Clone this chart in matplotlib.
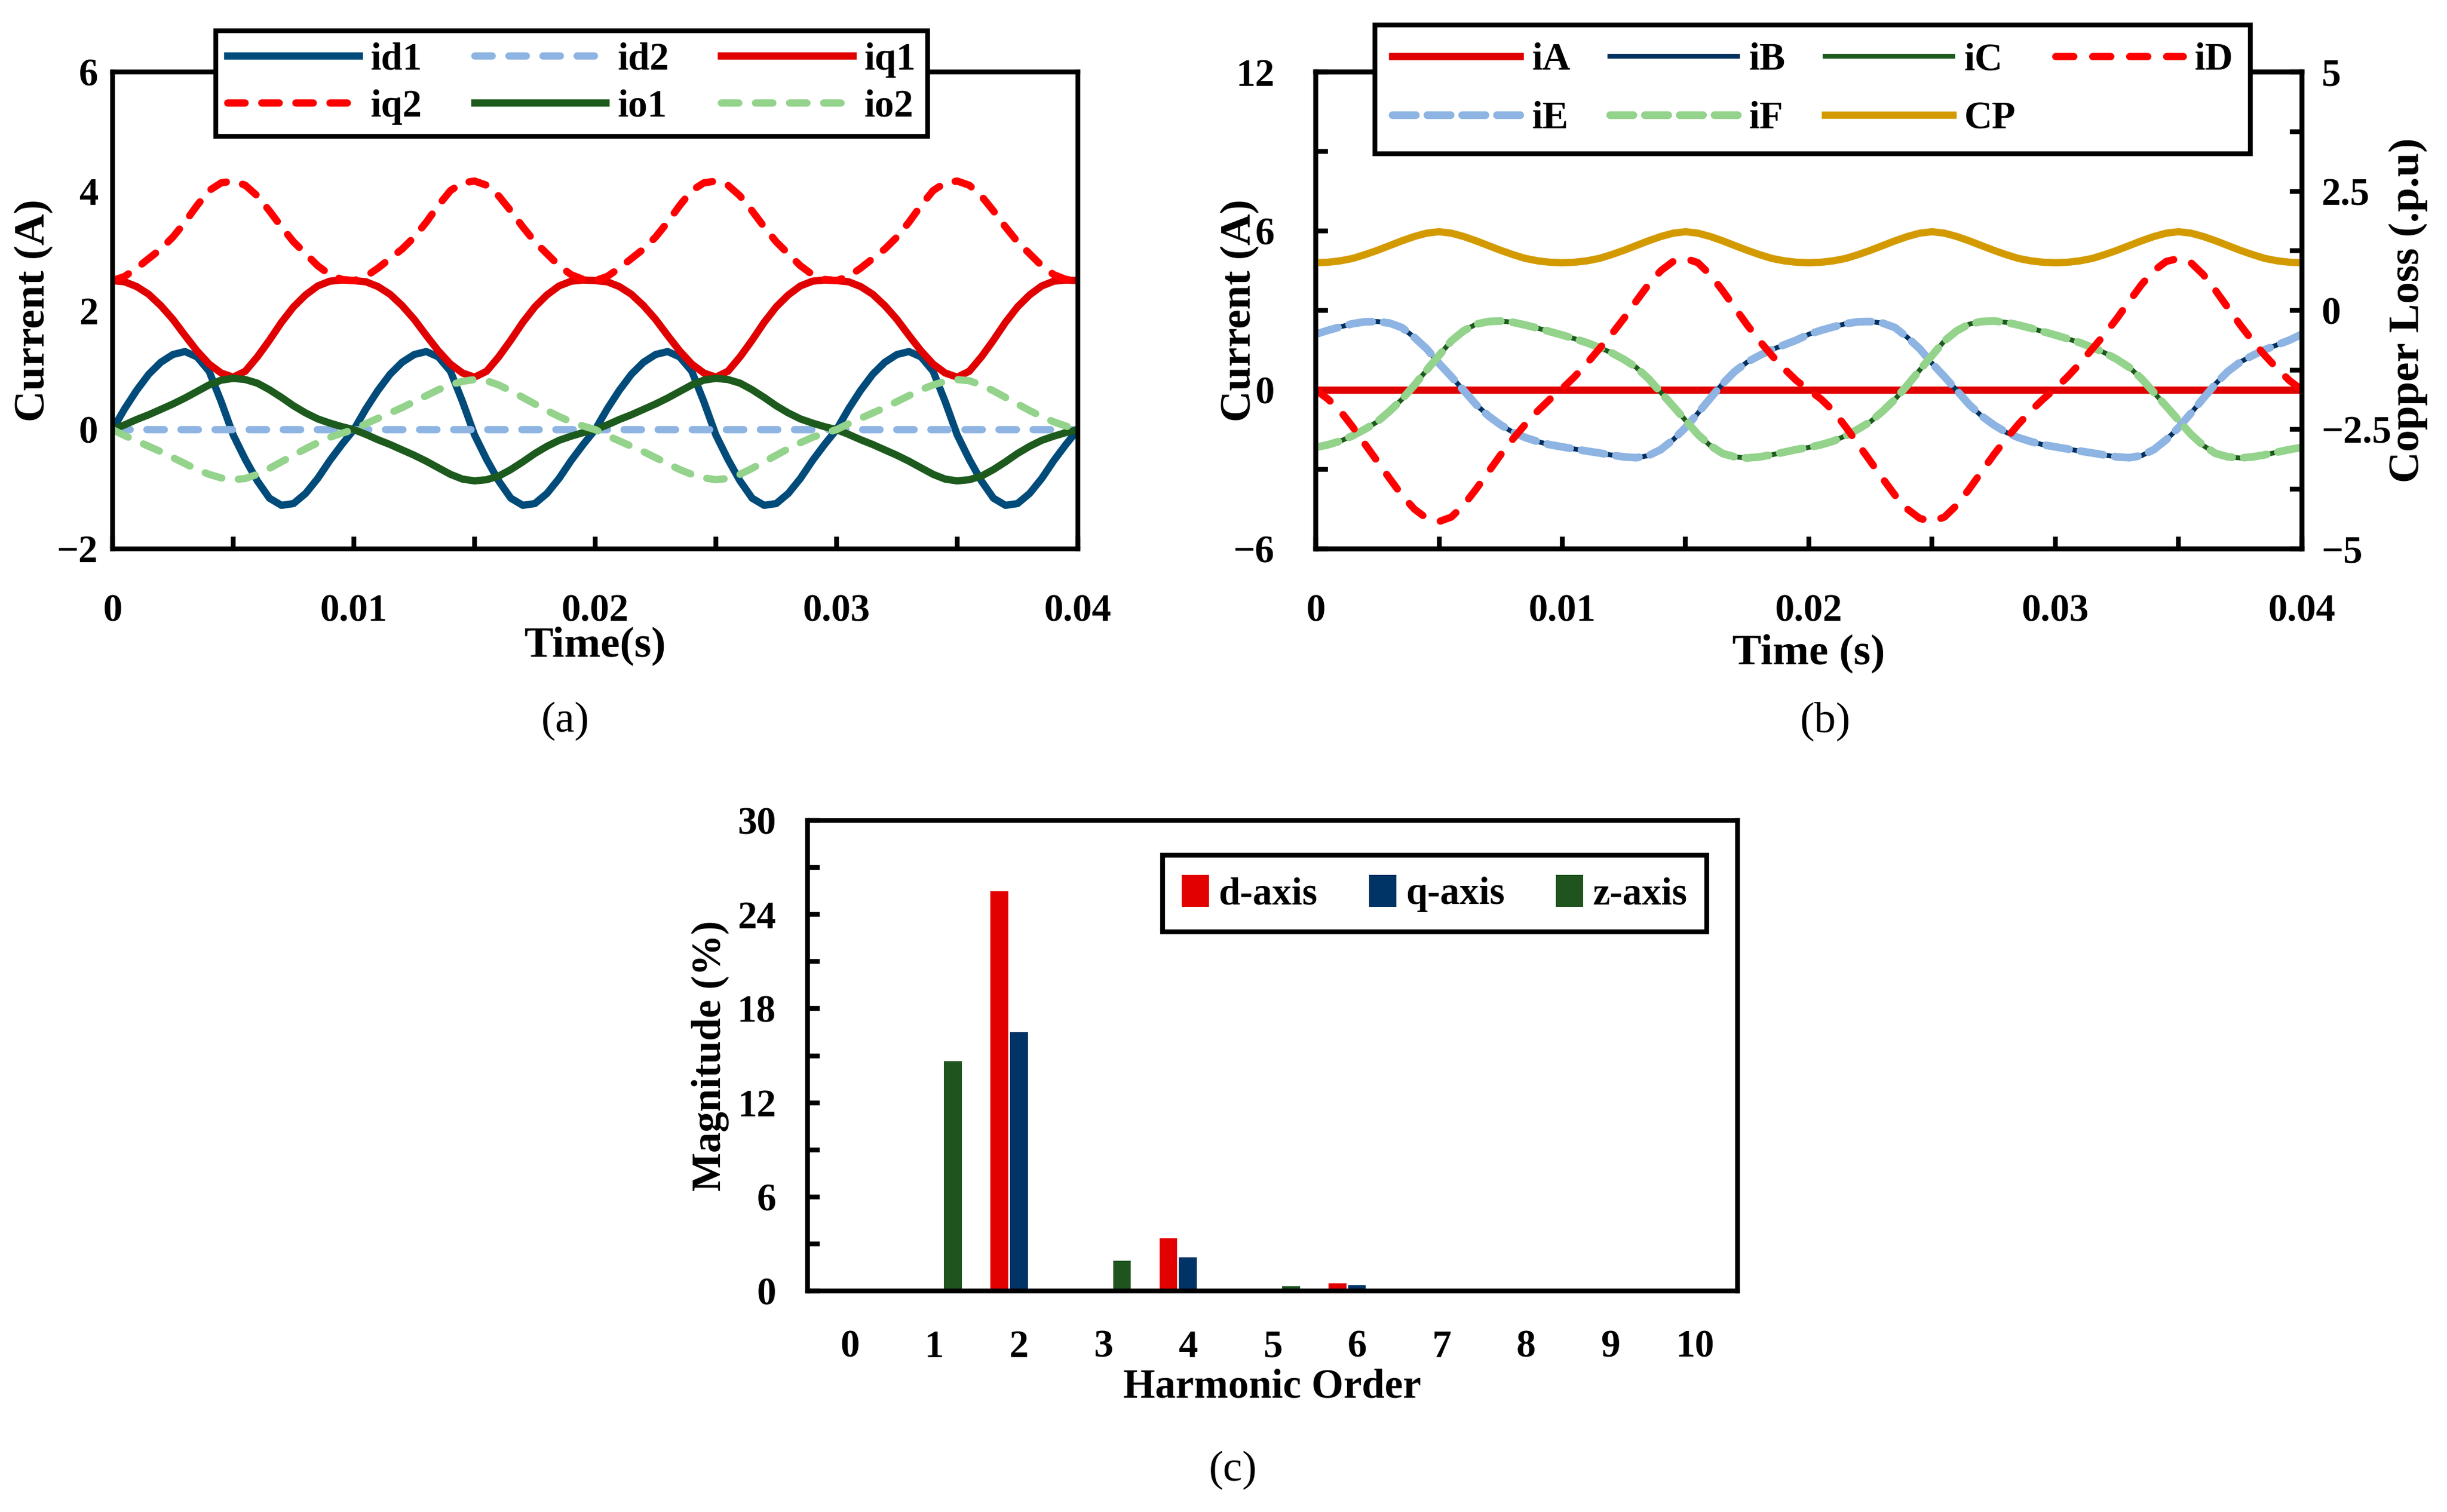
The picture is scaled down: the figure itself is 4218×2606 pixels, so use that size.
import numpy as np
import matplotlib
matplotlib.use("Agg")
import matplotlib.pyplot as plt
from matplotlib.ticker import MultipleLocator

plt.rcParams['font.family'] = ['Liberation Serif', 'DejaVu Serif']
plt.rcParams['font.weight'] = 'bold'
plt.rcParams['axes.labelweight'] = 'bold'

# ---- data (0.5 ms steps, 0 .. 40 ms) ----
t = np.linspace(0, 0.04, 81)

id1 = [0, 0.35, 0.66, 0.93, 1.13, 1.26, 1.31, 1.22, 0.98, 0.47, -0.09, -0.50, -0.86, -1.15, -1.27, -1.24, -1.07, -0.82, -0.52, -0.25,
       0, 0.35, 0.66, 0.93, 1.13, 1.26, 1.31, 1.22, 0.98, 0.47, -0.09, -0.50, -0.86, -1.15, -1.27, -1.24, -1.07, -0.82, -0.52, -0.25,
       0, 0.35, 0.66, 0.93, 1.13, 1.26, 1.31, 1.22, 0.98, 0.47, -0.09, -0.50, -0.86, -1.15, -1.27, -1.24, -1.07, -0.82, -0.52, -0.25,
       0, 0.35, 0.66, 0.93, 1.13, 1.26, 1.31, 1.22, 0.98, 0.47, -0.09, -0.50, -0.86, -1.15, -1.27, -1.24, -1.07, -0.82, -0.52, -0.25,
       0]
id2 = [0.0] * 81
iq1 = [2.50, 2.48, 2.40, 2.27, 2.08, 1.85, 1.58, 1.32, 1.10, 0.95, 0.88, 0.98, 1.22, 1.50, 1.80, 2.06, 2.26, 2.41, 2.49, 2.51,
       2.50, 2.48, 2.40, 2.27, 2.08, 1.85, 1.58, 1.32, 1.10, 0.95, 0.88, 0.98, 1.22, 1.50, 1.80, 2.06, 2.26, 2.41, 2.49, 2.51,
       2.50, 2.48, 2.40, 2.27, 2.08, 1.85, 1.58, 1.32, 1.10, 0.95, 0.88, 0.98, 1.22, 1.50, 1.80, 2.06, 2.26, 2.41, 2.49, 2.51,
       2.50, 2.48, 2.40, 2.27, 2.08, 1.85, 1.58, 1.32, 1.10, 0.95, 0.88, 0.98, 1.22, 1.50, 1.80, 2.06, 2.26, 2.41, 2.49, 2.51,
       2.50]
iq2 = [2.50, 2.57, 2.71, 2.87, 3.03, 3.23, 3.48, 3.76, 4.01, 4.14, 4.17, 4.10, 3.92, 3.67, 3.40, 3.15, 2.95, 2.75, 2.60, 2.52,
       2.50, 2.57, 2.71, 2.87, 3.03, 3.23, 3.48, 3.76, 4.01, 4.14, 4.17, 4.10, 3.92, 3.67, 3.40, 3.15, 2.95, 2.75, 2.60, 2.52,
       2.50, 2.57, 2.71, 2.87, 3.03, 3.23, 3.48, 3.76, 4.01, 4.14, 4.17, 4.10, 3.92, 3.67, 3.40, 3.15, 2.95, 2.75, 2.60, 2.52,
       2.50, 2.57, 2.71, 2.87, 3.03, 3.23, 3.48, 3.76, 4.01, 4.14, 4.17, 4.10, 3.92, 3.67, 3.40, 3.15, 2.95, 2.75, 2.60, 2.52,
       2.50]
io1 = [0, 0.08, 0.17, 0.25, 0.34, 0.43, 0.53, 0.64, 0.75, 0.83, 0.86, 0.84, 0.78, 0.67, 0.54, 0.40, 0.28, 0.18, 0.11, 0.05,
       0, -0.08, -0.17, -0.25, -0.34, -0.43, -0.53, -0.64, -0.75, -0.83, -0.86, -0.84, -0.78, -0.67, -0.54, -0.40, -0.28, -0.18, -0.11, -0.05,
       0, 0.08, 0.17, 0.25, 0.34, 0.43, 0.53, 0.64, 0.75, 0.83, 0.86, 0.84, 0.78, 0.67, 0.54, 0.40, 0.28, 0.18, 0.11, 0.05,
       0, -0.08, -0.17, -0.25, -0.34, -0.43, -0.53, -0.64, -0.75, -0.83, -0.86, -0.84, -0.78, -0.67, -0.54, -0.40, -0.28, -0.18, -0.11, -0.05,
       0]
io2 = [0, -0.10, -0.19, -0.28, -0.37, -0.47, -0.57, -0.67, -0.75, -0.81, -0.84, -0.82, -0.75, -0.65, -0.54, -0.43, -0.32, -0.22, -0.13, -0.06,
       0, 0.10, 0.19, 0.28, 0.37, 0.47, 0.57, 0.67, 0.75, 0.81, 0.84, 0.82, 0.75, 0.65, 0.54, 0.43, 0.32, 0.22, 0.13, 0.06,
       0, -0.10, -0.19, -0.28, -0.37, -0.47, -0.57, -0.67, -0.75, -0.81, -0.84, -0.82, -0.75, -0.65, -0.54, -0.43, -0.32, -0.22, -0.13, -0.06,
       0, 0.10, 0.19, 0.28, 0.37, 0.47, 0.57, 0.67, 0.75, 0.81, 0.84, 0.82, 0.75, 0.65, 0.54, 0.43, 0.32, 0.22, 0.13, 0.06,
       0]

iA = [0.0] * 81
iB = [2.10, 2.25, 2.38, 2.50, 2.57, 2.58, 2.52, 2.35, 1.98, 1.55, 1.00, 0.50, -0.02, -0.55, -0.98, -1.32, -1.60, -1.80, -1.95, -2.07,
      -2.15, -2.23, -2.31, -2.38, -2.46, -2.53, -2.56, -2.48, -2.25, -1.88, -1.42, -0.88, -0.32, 0.23, 0.70, 1.05, 1.30, 1.52, 1.70, 1.88,
      2.10, 2.25, 2.38, 2.50, 2.57, 2.58, 2.52, 2.35, 1.98, 1.55, 1.00, 0.50, -0.02, -0.55, -0.98, -1.32, -1.60, -1.80, -1.95, -2.07,
      -2.15, -2.23, -2.31, -2.38, -2.46, -2.53, -2.56, -2.48, -2.25, -1.88, -1.42, -0.88, -0.32, 0.23, 0.70, 1.05, 1.30, 1.52, 1.70, 1.88,
      2.10]
iC = [-2.17, -2.07, -1.93, -1.73, -1.48, -1.20, -0.80, -0.35, 0.18, 0.75, 1.30, 1.85, 2.23, 2.48, 2.58, 2.60, 2.55, 2.45, 2.33, 2.20,
      2.07, 1.93, 1.78, 1.60, 1.40, 1.15, 0.85, 0.42, -0.10, -0.62, -1.15, -1.68, -2.10, -2.40, -2.53, -2.57, -2.53, -2.45, -2.35, -2.25,
      -2.17, -2.07, -1.93, -1.73, -1.48, -1.20, -0.80, -0.35, 0.18, 0.75, 1.30, 1.85, 2.23, 2.48, 2.58, 2.60, 2.55, 2.45, 2.33, 2.20,
      2.07, 1.93, 1.78, 1.60, 1.40, 1.15, 0.85, 0.42, -0.10, -0.62, -1.15, -1.68, -2.10, -2.40, -2.53, -2.57, -2.53, -2.45, -2.35, -2.25,
      -2.17]
iD = [0, -0.35, -0.80, -1.40, -2.05, -2.70, -3.35, -3.98, -4.50, -4.85, -4.97, -4.80, -4.35, -3.75, -3.10, -2.45, -1.85, -1.30, -0.80, -0.35,
      0.05, 0.50, 1.00, 1.55, 2.10, 2.70, 3.35, 3.98, 4.50, 4.85, 4.96, 4.80, 4.35, 3.75, 3.10, 2.45, 1.85, 1.30, 0.80, 0.35,
      0, -0.35, -0.80, -1.40, -2.05, -2.70, -3.35, -3.98, -4.50, -4.85, -4.97, -4.80, -4.35, -3.75, -3.10, -2.45, -1.85, -1.30, -0.80, -0.35,
      0.05, 0.50, 1.00, 1.55, 2.10, 2.70, 3.35, 3.98, 4.50, 4.85, 4.96, 4.80, 4.35, 3.75, 3.10, 2.45, 1.85, 1.30, 0.80, 0.35,
      0]
iE = iB
iF = iC
CP = [1.00, 1.01, 1.04, 1.09, 1.17, 1.26, 1.36, 1.46, 1.55, 1.62, 1.65, 1.62, 1.55, 1.46, 1.36, 1.26, 1.17, 1.09, 1.04, 1.01,
      1.00, 1.01, 1.04, 1.09, 1.17, 1.26, 1.36, 1.46, 1.55, 1.62, 1.65, 1.62, 1.55, 1.46, 1.36, 1.26, 1.17, 1.09, 1.04, 1.01,
      1.00, 1.01, 1.04, 1.09, 1.17, 1.26, 1.36, 1.46, 1.55, 1.62, 1.65, 1.62, 1.55, 1.46, 1.36, 1.26, 1.17, 1.09, 1.04, 1.01,
      1.00, 1.01, 1.04, 1.09, 1.17, 1.26, 1.36, 1.46, 1.55, 1.62, 1.65, 1.62, 1.55, 1.46, 1.36, 1.26, 1.17, 1.09, 1.04, 1.01,
      1.00]

harmonics = list(range(11))
d_axis = [0, 0, 25.5, 0, 3.36, 0, 0.49, 0, 0, 0, 0]
q_axis = [0, 0, 16.5, 0, 2.16, 0, 0.37, 0, 0, 0, 0]
z_axis = [0, 14.65, 0, 1.94, 0, 0.31, 0, 0, 0, 0, 0]

time_ticks = [0, 0.01, 0.02, 0.03, 0.04]
time_labels = ['0', '0.01', '0.02', '0.03', '0.04']

LW = 3.0
FS = 16
LFS = 18
SPW = 2.0
DASH = (2.4, 2.3)


def frame(ax):
    for s in ax.spines.values():
        s.set_linewidth(SPW)
    ax.tick_params(which='both', direction='in', width=SPW, length=5, labelsize=FS)


fig = plt.figure(figsize=(4218 / 300, 2606 / 300), dpi=300)

# ---------------- (a) ----------------
ax = fig.add_axes([0.046, 0.637, 0.3945, 0.3154])
frame(ax)
ax.plot(t, id1, color='#004B7A', lw=LW, label='id1')
ax.plot(t, id2, color='#8DB4E2', lw=LW, dashes=DASH, dash_capstyle='round', label='id2')
ax.plot(t, iq1, color='#E00000', lw=LW, label='iq1')
ax.plot(t, iq2, color='#FF0000', lw=LW, dashes=DASH, dash_capstyle='round', label='iq2')
ax.plot(t, io1, color='#1D5A1D', lw=LW, label='io1')
ax.plot(t, io2, color='#93D38B', lw=LW, dashes=DASH, dash_capstyle='round', label='io2')
ax.set_xlim(0, 0.04)
ax.set_ylim(-2, 6)
ax.set_xticks(time_ticks)
ax.set_xticklabels(time_labels)
ax.xaxis.set_minor_locator(MultipleLocator(0.005))
ax.set_yticks([-2, 0, 2, 4, 6])
ax.tick_params(axis='x', which='both', pad=18.5)
ax.tick_params(axis='y', which='both', length=0, pad=6)
ax.set_xlabel('Time(s)', fontsize=LFS)
ax.set_ylabel('Current (A)', fontsize=LFS)
ax.xaxis.set_label_coords(0.5, -0.162)
ax.yaxis.set_label_coords(-0.061, 0.5)
h, l = ax.get_legend_handles_labels()
order = [0, 3, 1, 4, 2, 5]
leg = ax.legend([h[i] for i in order], [l[i] for i in order], ncol=3, mode='expand',
                loc='center', bbox_to_anchor=(0.0882, 0.9071, 0.2909, 0.0756),
                bbox_transform=fig.transFigure, prop={'size': FS, 'weight': 'bold'},
                handlelength=3.4, handletextpad=0.3, labelspacing=0.3, borderpad=0.3,
                borderaxespad=0, fancybox=False, framealpha=1, edgecolor='black')
leg.get_frame().set_linewidth(SPW)
fig.text(0.2309, 0.523, '(a)', fontsize=LFS, fontweight='normal', ha='center', va='center')

# ---------------- (b) ----------------
axb = fig.add_axes([0.5377, 0.637, 0.403, 0.3154])
frame(axb)
axb.plot(t, iA, color='#E00000', lw=LW, label='iA')
axb.plot(t, iB, color='#00305F', lw=2.0, label='iB')
axb.plot(t, iC, color='#1D5A1D', lw=2.0, label='iC')
axb.plot(t, iE, color='#8DB4E2', lw=3.2, dashes=(3.0, 1.5), dash_capstyle='round', label='iE')
axb.plot(t, iF, color='#93D38B', lw=3.2, dashes=(3.0, 1.5), dash_capstyle='round', label='iF')
axb.plot(t, iD, color='#FF0000', lw=LW, dashes=(2.5, 2.6), dash_capstyle='round', label='iD')
axb.set_xlim(0, 0.04)
axb.set_ylim(-6, 12)
axb.set_xticks(time_ticks)
axb.set_xticklabels(time_labels)
axb.xaxis.set_minor_locator(MultipleLocator(0.005))
axb.set_yticks([-6, 0, 6, 12])
axb.yaxis.set_minor_locator(MultipleLocator(3))
axb.tick_params(axis='x', which='both', pad=18.5)
axb.tick_params(axis='y', which='both', pad=17)
axb.set_xlabel('Time (s)', fontsize=LFS)
axb.set_ylabel('Current (A)', fontsize=LFS)
axb.xaxis.set_label_coords(0.5, -0.178)
axb.yaxis.set_label_coords(-0.057, 0.5)

axb2 = axb.twinx()
frame(axb2)
axb2.plot(t, CP, color='#D39A00', lw=LW, label='CP')
axb2.set_ylim(-5, 5)
axb2.set_yticks([-5, -2.5, 0, 2.5, 5])
axb2.set_yticklabels(['\u22125', '\u22122.5', '0', '2.5', '5'])
axb2.yaxis.set_minor_locator(MultipleLocator(1.25))
axb2.tick_params(axis='y', which='both', pad=8)
axb2.set_ylabel('Copper Loss (.p.u)', fontsize=LFS)
axb2.yaxis.set_label_coords(1.088, 0.5)

hb, lb = axb.get_legend_handles_labels()
hc, lc = axb2.get_legend_handles_labels()
hmap = dict(zip(lb + lc, hb + hc))
order_b = ['iA', 'iE', 'iB', 'iF', 'iC', 'CP', 'iD']
legb = axb2.legend([hmap[k] for k in order_b], order_b, ncol=4, mode='expand',
                   loc='center', bbox_to_anchor=(0.5619, 0.8964, 0.3578, 0.089),
                   bbox_transform=fig.transFigure, prop={'size': FS, 'weight': 'bold'},
                   handlelength=3.3, handletextpad=0.3, labelspacing=0.6, borderpad=0.45,
                   borderaxespad=0, fancybox=False, framealpha=1, edgecolor='black')
legb.get_frame().set_linewidth(SPW)
fig.text(0.746, 0.523, '(b)', fontsize=LFS, fontweight='normal', ha='center', va='center')

# ---------------- (c) ----------------
axc = fig.add_axes([0.330, 0.1462, 0.380, 0.3112])
frame(axc)
x = np.array(harmonics)
w = 0.21
axc.bar(x - 0.23, d_axis, w, color='#E20000', label='d-axis')
axc.bar(x, q_axis, w, color='#003366', label='q-axis')
axc.bar(x + 0.22, z_axis, w, color='#1F541F', label='z-axis')
axc.set_xlim(-0.5, 10.5)
axc.set_ylim(0, 30)
axc.set_xticks(harmonics)
axc.set_yticks([0, 6, 12, 18, 24, 30])
axc.yaxis.set_minor_locator(MultipleLocator(3))
axc.tick_params(axis='x', length=0, pad=16)
axc.tick_params(axis='y', which='both', pad=13)
axc.set_xlabel('Harmonic Order', fontsize=17)
axc.set_ylabel('Magnitude (%)', fontsize=17)
axc.xaxis.set_label_coords(0.5, -0.165)
axc.yaxis.set_label_coords(-0.084, 0.5)
legc = axc.legend(ncol=3, mode='expand', loc='center',
                  bbox_to_anchor=(0.4751, 0.3818, 0.2224, 0.0545),
                  bbox_transform=fig.transFigure, prop={'size': FS, 'weight': 'bold'},
                  handlelength=0.7, handleheight=0.9, handletextpad=0.25, borderpad=0.5,
                  borderaxespad=0, fancybox=False, framealpha=1, edgecolor='black')
legc.get_frame().set_linewidth(SPW)
fig.text(0.5038, 0.0276, '(c)', fontsize=LFS, fontweight='normal', ha='center', va='center')

fig.savefig('out.png', dpi=300)
